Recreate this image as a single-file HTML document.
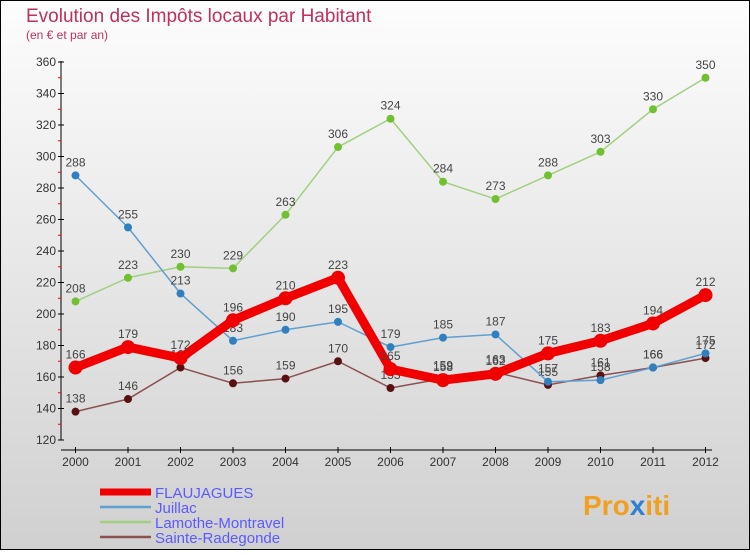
<!DOCTYPE html>
<html><head><meta charset="utf-8"><style>
html,body{margin:0;padding:0}
body{width:750px;height:550px;overflow:hidden;font-family:"Liberation Sans",sans-serif}
svg text{font-family:"Liberation Sans",sans-serif}
</style></head><body>
<svg id="chart" width="750" height="550" xmlns="http://www.w3.org/2000/svg">
<defs><linearGradient id="bg" x1="0" y1="0" x2="0" y2="1"><stop offset="0" stop-color="#fdfdfd"/><stop offset="1" stop-color="#d0d0d0"/></linearGradient></defs>
<rect x="0.5" y="0.5" width="749" height="549" fill="url(#bg)" stroke="#000"/>
<text x="26" y="22" font-size="19" fill="#c0305a">Evolution des Impôts locaux par Habitant</text>
<text x="26" y="39" font-size="12" fill="#c0305a">(en € et par an)</text>
<g id="axes"></g>
<g id="series"></g>
<g id="legend"></g>
<text x="583" y="515" font-size="28" font-weight="bold" fill="#f0a020">Pro<tspan fill="#3080d0">x</tspan>iti</text>
</svg>
<script>
const years=[2000,2001,2002,2003,2004,2005,2006,2007,2008,2009,2010,2011,2012];
const yTicks=[120,140,160,180,200,220,240,260,280,300,320,340,360];
const flaujagues=[166,179,172,196,210,223,165,158,162,175,183,194,212];
const juillac=[288,255,213,183,190,195,179,185,187,157,158,166,175];
const lamothe=[208,223,230,229,263,306,324,284,273,288,303,330,350];
const sainteRadegonde=[138,146,166,156,159,170,153,159,163,155,161,166,172];
const seriesNames=["FLAUJAGUES","Juillac","Lamothe-Montravel","Sainte-Radegonde"];

const NS="http://www.w3.org/2000/svg";
const xS=i=>75.5+i*52.5;
const yS=v=>440-(v-120)*31.5/20;
function mk(tag,attrs,parent){const e=document.createElementNS(NS,tag);for(const k in attrs)e.setAttribute(k,attrs[k]);parent.appendChild(e);return e;}
const axes=document.getElementById('axes');
let ya=mk('line',{x1:61,y1:61,x2:61,y2:440,stroke:'#000','stroke-width':1},axes);


let xa=mk('line',{x1:61,y1:450,x2:712,y2:450,stroke:'#000','stroke-width':1},axes);


yTicks.forEach((v,i)=>{
  mk('line',{x1:58,y1:yS(v),x2:64,y2:yS(v),stroke:'#000'},axes);
  if(i<yTicks.length-1) mk('line',{x1:58,y1:yS(v+10),x2:61,y2:yS(v+10),stroke:'#f00'},axes);
  const t=mk('text',{x:56,y:yS(v)+4,'font-size':12,'text-anchor':'end',fill:'#333'},axes);
  t.textContent=v;
  
  
});
years.forEach((y,i)=>{
  mk('line',{x1:xS(i),y1:447,x2:xS(i),y2:453,stroke:'#000'},axes);
  const t=mk('text',{x:xS(i),y:466,'font-size':12,'text-anchor':'middle',fill:'#333'},axes);
  t.textContent=y;
  
  
});
const sg=document.getElementById('series');
const defs=[
 {d:sainteRadegonde,c:'#8b5050',pc:'#5a1010',w:1.5,r:4,n:'sainte-radegonde'},
 {d:lamothe,c:'#a0d080',pc:'#70c030',w:1.5,r:4,n:'lamothe-montravel'},
 {d:juillac,c:'#5fa0d0',pc:'#3080c0',w:1.5,r:4,n:'juillac'},
 {d:flaujagues,c:'#f00000',pc:'#f00000',w:9,r:7,n:'flaujagues'}
];
defs.forEach(s=>{
  const g=mk('g',{},sg);
  
  
  const pl=mk('polyline',{points:s.d.map((v,i)=>xS(i)+','+yS(v)).join(' '),fill:'none',stroke:s.c,'stroke-width':s.w,'stroke-linejoin':'round'},g);
  
  
  s.d.forEach((v,i)=>{
    const c=mk('circle',{cx:xS(i),cy:yS(v),r:s.r,fill:s.pc},g);
    
    
    const t=mk('text',{x:xS(i),y:yS(v)-9,'font-size':12,'text-anchor':'middle',fill:'#444'},g);
    t.textContent=v;
    
    
  });
});
const lg=document.getElementById('legend');
const lcol=['#f00000','#5fa0d0','#a0d080','#8b5050'];
const lw=[7,2.5,2.5,2.5];
seriesNames.forEach((n,i)=>{
  const y=492+i*15;
  const g=mk('g',{},lg);
  
  
  mk('line',{x1:100,y1:y,x2:151,y2:y,stroke:lcol[i],'stroke-width':lw[i]},g);
  const t=mk('text',{x:155,y:y+6,'font-size':15,fill:'#5a5aff'},g);
  t.textContent=n;
});
</script>
</body></html>
